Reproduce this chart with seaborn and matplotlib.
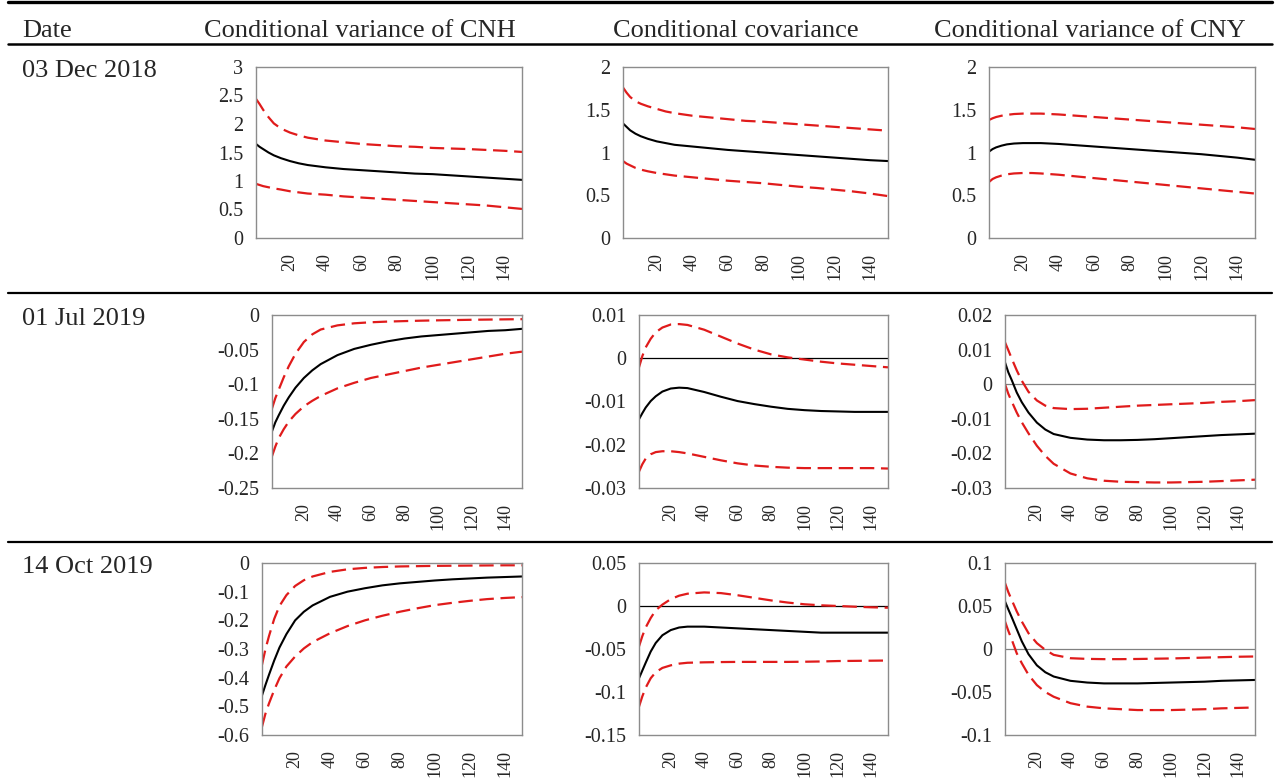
import matplotlib
matplotlib.use('Agg')
import matplotlib.pyplot as plt
from matplotlib.lines import Line2D
import seaborn as sns
import pandas as pd
import numpy as np

# horizon (days after the shock)
steps = [1, 3, 5, 8, 11, 15, 20, 25, 30, 40, 50, 60, 70, 80, 90, 100, 110, 120, 130, 140, 150]

dates = ['03 Dec 2018', '01 Jul 2019', '14 Oct 2019']
columns = ['Conditional variance of CNH', 'Conditional covariance', 'Conditional variance of CNY']

# --- 03 Dec 2018
cnh_dec18_up = [2.44, 2.35, 2.25, 2.12, 2.01, 1.92, 1.85, 1.80, 1.76, 1.71, 1.68, 1.65, 1.63, 1.61, 1.60, 1.58, 1.57, 1.56, 1.545, 1.53, 1.51]
cnh_dec18_irf = [1.65, 1.60, 1.56, 1.50, 1.45, 1.40, 1.35, 1.31, 1.28, 1.24, 1.21, 1.19, 1.17, 1.15, 1.13, 1.12, 1.10, 1.08, 1.06, 1.04, 1.02]
cnh_dec18_lo = [0.95, 0.93, 0.91, 0.89, 0.87, 0.85, 0.82, 0.80, 0.78, 0.76, 0.73, 0.71, 0.69, 0.67, 0.65, 0.63, 0.61, 0.59, 0.57, 0.54, 0.51]

cov_dec18_up = [1.76, 1.70, 1.65, 1.60, 1.57, 1.54, 1.51, 1.48, 1.46, 1.43, 1.41, 1.39, 1.37, 1.36, 1.345, 1.33, 1.315, 1.30, 1.285, 1.27, 1.255]
cov_dec18_irf = [1.34, 1.30, 1.26, 1.22, 1.19, 1.16, 1.13, 1.11, 1.09, 1.07, 1.05, 1.03, 1.015, 1.00, 0.985, 0.97, 0.955, 0.94, 0.925, 0.91, 0.90]
cov_dec18_lo = [0.90, 0.87, 0.85, 0.82, 0.80, 0.78, 0.76, 0.745, 0.73, 0.71, 0.69, 0.67, 0.655, 0.64, 0.62, 0.60, 0.585, 0.565, 0.545, 0.52, 0.49]

cny_dec18_up = [1.38, 1.40, 1.415, 1.43, 1.44, 1.45, 1.455, 1.455, 1.455, 1.445, 1.43, 1.415, 1.40, 1.385, 1.37, 1.355, 1.34, 1.325, 1.31, 1.295, 1.275]
cny_dec18_irf = [1.01, 1.04, 1.06, 1.08, 1.095, 1.105, 1.11, 1.11, 1.11, 1.10, 1.085, 1.07, 1.055, 1.04, 1.025, 1.01, 0.995, 0.98, 0.96, 0.94, 0.915]
cny_dec18_lo = [0.655, 0.69, 0.71, 0.73, 0.745, 0.755, 0.76, 0.76, 0.755, 0.74, 0.72, 0.70, 0.68, 0.66, 0.64, 0.62, 0.60, 0.58, 0.56, 0.54, 0.52]

# --- 01 Jul 2019
cnh_jul19_up = [-0.135, -0.120, -0.108, -0.090, -0.074, -0.056, -0.039, -0.028, -0.021, -0.015, -0.012, -0.0105, -0.0095, -0.0088, -0.0082, -0.0077, -0.0073, -0.0069, -0.0066, -0.0063, -0.006]
cnh_jul19_irf = [-0.168, -0.155, -0.145, -0.131, -0.119, -0.105, -0.091, -0.080, -0.071, -0.058, -0.049, -0.043, -0.038, -0.034, -0.031, -0.029, -0.027, -0.025, -0.023, -0.022, -0.020]
cnh_jul19_lo = [-0.204, -0.190, -0.178, -0.165, -0.154, -0.143, -0.132, -0.124, -0.117, -0.106, -0.098, -0.091, -0.086, -0.081, -0.076, -0.072, -0.068, -0.064, -0.060, -0.056, -0.053]

cov_jul19_up = [-0.0021, 0.0005, 0.0025, 0.0045, 0.0060, 0.0071, 0.0078, 0.0079, 0.0077, 0.0066, 0.0050, 0.0034, 0.0020, 0.0009, 0.0002, -0.0003, -0.0008, -0.0012, -0.0015, -0.0018, -0.0021]
cov_jul19_irf = [-0.0141, -0.0127, -0.0114, -0.0099, -0.0088, -0.0077, -0.0070, -0.0068, -0.0069, -0.0078, -0.0089, -0.0099, -0.0106, -0.0112, -0.0117, -0.0120, -0.0122, -0.0123, -0.0124, -0.0124, -0.0124]
cov_jul19_lo = [-0.0262, -0.0245, -0.0232, -0.0222, -0.0217, -0.0215, -0.0215, -0.0217, -0.0220, -0.0228, -0.0236, -0.0243, -0.0248, -0.0251, -0.0253, -0.0254, -0.0254, -0.0254, -0.0254, -0.0254, -0.0255]

cny_jul19_up = [0.0121, 0.0098, 0.0074, 0.0040, 0.0010, -0.0022, -0.0047, -0.0062, -0.0069, -0.0072, -0.0071, -0.0068, -0.0065, -0.0062, -0.0060, -0.0058, -0.0056, -0.0054, -0.0051, -0.0049, -0.0046]
cny_jul19_irf = [0.0063, 0.0034, 0.0012, -0.0024, -0.0052, -0.0082, -0.0111, -0.0131, -0.0144, -0.0155, -0.0160, -0.0162, -0.0162, -0.0161, -0.0159, -0.0156, -0.0153, -0.0150, -0.0147, -0.0145, -0.0143]
cny_jul19_lo = [0.0, -0.0028, -0.0050, -0.0082, -0.0110, -0.0142, -0.0178, -0.0207, -0.0230, -0.0258, -0.0272, -0.0279, -0.0282, -0.0283, -0.0284, -0.0284, -0.0283, -0.0282, -0.0280, -0.0278, -0.0276]

# --- 14 Oct 2019
cnh_oct19_up = [-0.355, -0.30, -0.255, -0.195, -0.150, -0.112, -0.080, -0.060, -0.047, -0.031, -0.022, -0.017, -0.014, -0.012, -0.011, -0.010, -0.0095, -0.009, -0.0085, -0.008, -0.008]
cnh_oct19_irf = [-0.462, -0.425, -0.39, -0.34, -0.295, -0.248, -0.20, -0.17, -0.148, -0.118, -0.100, -0.088, -0.078, -0.071, -0.066, -0.061, -0.057, -0.054, -0.051, -0.049, -0.047]
cnh_oct19_lo = [-0.571, -0.525, -0.49, -0.443, -0.402, -0.361, -0.326, -0.298, -0.276, -0.245, -0.220, -0.200, -0.184, -0.170, -0.158, -0.147, -0.139, -0.132, -0.126, -0.122, -0.119]

cov_oct19_up = [-0.047, -0.035, -0.025, -0.014, -0.005, 0.0016, 0.008, 0.012, 0.0143, 0.0158, 0.0150, 0.0125, 0.0095, 0.0065, 0.0040, 0.0020, 0.0008, 0.0, -0.0008, -0.0015, -0.0020]
cov_oct19_irf = [-0.084, -0.075, -0.066, -0.053, -0.043, -0.034, -0.028, -0.025, -0.024, -0.024, -0.025, -0.026, -0.027, -0.028, -0.029, -0.030, -0.031, -0.031, -0.031, -0.031, -0.031]
cov_oct19_lo = [-0.117, -0.105, -0.095, -0.084, -0.077, -0.072, -0.069, -0.067, -0.066, -0.0655, -0.0652, -0.065, -0.065, -0.065, -0.065, -0.0648, -0.0645, -0.064, -0.0638, -0.0636, -0.0634]

cny_oct19_up = [0.0767, 0.066, 0.057, 0.0437, 0.032, 0.0184, 0.0068, -0.001, -0.0068, -0.0107, -0.0115, -0.0118, -0.0118, -0.0116, -0.0113, -0.011, -0.0105, -0.010, -0.0095, -0.009, -0.0087]
cny_oct19_irf = [0.0553, 0.046, 0.037, 0.023, 0.009, -0.006, -0.019, -0.027, -0.032, -0.037, -0.039, -0.040, -0.040, -0.040, -0.0395, -0.039, -0.0385, -0.038, -0.037, -0.0365, -0.036]
cny_oct19_lo = [0.032, 0.021, 0.011, -0.005, -0.0165, -0.030, -0.042, -0.050, -0.0555, -0.063, -0.067, -0.069, -0.070, -0.071, -0.071, -0.071, -0.0705, -0.070, -0.069, -0.0685, -0.068]

# y axis ticks per panel
yt_cnh_dec18 = [0, 0.5, 1, 1.5, 2, 2.5, 3]
yt_cov_dec18 = [0, 0.5, 1, 1.5, 2]
yt_cny_dec18 = [0, 0.5, 1, 1.5, 2]
yt_cnh_jul19 = [-0.25, -0.2, -0.15, -0.1, -0.05, 0]
yt_cov_jul19 = [-0.03, -0.02, -0.01, 0, 0.01]
yt_cny_jul19 = [-0.03, -0.02, -0.01, 0, 0.01, 0.02]
yt_cnh_oct19 = [-0.6, -0.5, -0.4, -0.3, -0.2, -0.1, 0]
yt_cov_oct19 = [-0.15, -0.1, -0.05, 0, 0.05]
yt_cny_oct19 = [-0.1, -0.05, 0, 0.05, 0.1]
xt = [20, 40, 60, 80, 100, 120, 140]

panels = [
    [(cnh_dec18_up, cnh_dec18_irf, cnh_dec18_lo, yt_cnh_dec18),
     (cov_dec18_up, cov_dec18_irf, cov_dec18_lo, yt_cov_dec18),
     (cny_dec18_up, cny_dec18_irf, cny_dec18_lo, yt_cny_dec18)],
    [(cnh_jul19_up, cnh_jul19_irf, cnh_jul19_lo, yt_cnh_jul19),
     (cov_jul19_up, cov_jul19_irf, cov_jul19_lo, yt_cov_jul19),
     (cny_jul19_up, cny_jul19_irf, cny_jul19_lo, yt_cny_jul19)],
    [(cnh_oct19_up, cnh_oct19_irf, cnh_oct19_lo, yt_cnh_oct19),
     (cov_oct19_up, cov_oct19_irf, cov_oct19_lo, yt_cov_oct19),
     (cny_oct19_up, cny_oct19_irf, cny_oct19_lo, yt_cny_oct19)],
]

sns.set_style('white')
plt.rcParams['font.family'] = ['Liberation Serif', 'DejaVu Serif']

W, H = 1275, 778
fig = plt.figure(figsize=(W / 100, H / 100), dpi=100)

# axes boxes in pixels (left, top, right, bottom)
row_top = [67, 315, 563]
row_bot = [238, 488, 735]
col_left = [[256, 623, 989], [272, 639, 1005], [262, 639, 1005]]
col_right = [522, 888, 1255]
zero_col = ['black', 'black', '#808080']
RED = '#e01b1b'

def fx(px):
    return px / W

def fy(py):
    return 1 - py / H

for r in range(3):
    for c in range(3):
        up, irf, lo, yt = panels[r][c]
        L, T, R, B = col_left[r][c], row_top[r], col_right[c], row_bot[r]
        ax = fig.add_axes([fx(L), fy(B), (R - L) / W, (B - T) / H])
        df = pd.DataFrame({'step': steps, 'up': up, 'irf': irf, 'lo': lo})
        if yt[0] < 0 < yt[-1]:
            ax.axhline(0, color=zero_col[c], lw=0.9, zorder=1)
        sns.lineplot(data=df, x='step', y='up', ax=ax, color=RED, lw=1.6,
                     ls=(0, (6.5, 3)), errorbar=None)
        sns.lineplot(data=df, x='step', y='lo', ax=ax, color=RED, lw=1.6,
                     ls=(0, (6.5, 3)), errorbar=None)
        sns.lineplot(data=df, x='step', y='irf', ax=ax, color='black', lw=1.5,
                     errorbar=None)
        ax.set_xlim(1, 150)
        ax.set_ylim(yt[0], yt[-1])
        ax.set_yticks(yt)
        ax.set_yticklabels([f'{v:g}' for v in yt], fontsize=14.5)
        ax.set_xticks(xt)
        ax.set_xticklabels([str(v) for v in xt], rotation=90, fontsize=13)
        ax.tick_params(length=0)
        ax.tick_params(axis='y', pad=9)
        ax.tick_params(axis='x', pad=11)
        ax.set_xlabel('')
        ax.set_ylabel('')
        for s in ax.spines.values():
            s.set_color('#8c8c8c')
            s.set_linewidth(1.0)

# table text
fig.text(fx(22), fy(37), 'Date', fontsize=19, va='baseline', ha='left')
for cx, name in zip([360, 736, 1090], columns):
    fig.text(fx(cx), fy(37), name, fontsize=19, va='baseline', ha='center')
for r, d in enumerate(dates):
    fig.text(fx(22), fy(row_top[r] + 10), d, fontsize=19, va='baseline', ha='left')

# table rules
for yy, lw in [(2, 2.4), (44, 1.8), (293, 1.6), (542, 1.6)]:
    fig.add_artist(Line2D([fx(8), fx(1272)], [fy(yy), fy(yy)], color='black', lw=lw,
                          transform=fig.transFigure))

fig.savefig('out.png', dpi=100)
